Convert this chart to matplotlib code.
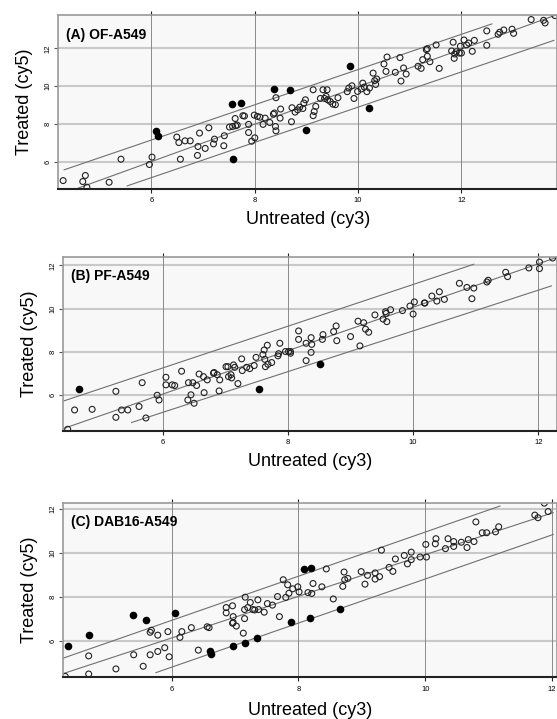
import matplotlib
matplotlib.use('Agg')
import matplotlib.pyplot as plt
import numpy as np

plt.rcParams['font.family'] = ['Liberation Sans', 'DejaVu Sans']

# (A) OF-A549
a_x = [4.29,4.67,4.72,4.75,5.18,5.41,5.96,6.01,6.49,6.53,6.56,6.65,6.75,6.89,6.90,6.93,7.04,7.11,7.20,7.22,
       7.40,7.41,7.51,7.57,7.62,7.63,7.66,7.77,7.80,7.88,7.88,7.94,7.99,8.00,8.05,8.10,8.16,8.20,8.29,8.36,
       8.38,8.41,8.40,8.41,8.49,8.50,8.71,8.72,8.78,8.83,8.87,8.93,8.95,8.98,9.13,9.13,9.15,9.18,9.27,9.32,
       9.35,9.38,9.40,9.41,9.46,9.51,9.56,9.61,9.79,9.82,9.88,9.92,9.99,10.06,10.09,10.12,10.17,10.22,10.29,10.32,
       10.34,10.36,10.50,10.54,10.56,10.72,10.81,10.83,10.88,10.93,11.16,11.22,11.25,11.32,11.34,11.34,11.39,11.51,11.57,11.81,
       11.84,11.86,11.87,11.90,11.96,11.98,12.00,12.05,12.10,12.14,12.21,12.25,12.49,12.49,12.71,12.74,12.82,12.98,13.01,13.35,
       13.59,13.62,13.81]
a_y = [5.01,4.96,5.28,4.66,4.92,6.14,5.86,6.25,7.31,7.02,6.14,7.11,7.11,6.34,6.81,7.52,6.71,7.80,6.95,7.20,
       6.85,7.38,7.84,7.87,8.29,7.91,7.94,8.44,8.42,7.55,7.98,7.09,8.47,7.27,8.40,8.36,7.98,8.31,8.08,8.52,
       8.58,9.39,7.87,7.64,8.31,8.79,8.12,8.86,8.63,8.75,8.89,8.82,9.11,9.28,8.44,9.81,8.66,8.93,9.35,9.81,
       9.35,9.46,9.81,9.28,9.19,9.05,9.02,9.39,9.71,9.90,10.02,9.35,9.72,9.85,10.16,9.95,9.71,9.90,10.69,10.29,
       10.09,10.38,11.17,10.78,11.54,10.73,11.51,10.27,10.96,10.64,11.05,10.94,11.40,11.93,11.98,11.58,11.29,12.18,10.94,11.86,
       12.32,11.47,11.70,11.82,11.75,12.11,11.75,12.44,12.18,12.28,11.84,12.42,12.92,12.16,12.74,12.85,12.97,13.01,12.79,13.52,
       13.48,13.34,13.73]
a_fx = [6.08,6.12,7.55,7.73,7.57,8.37,8.69,9.00,9.84,10.22]
a_fy = [7.62,7.34,9.04,9.12,6.14,9.85,9.78,7.66,11.05,8.82]

# (B) PF-A549
b_x = [4.48,4.59,4.87,5.25,5.25,5.34,5.44,5.62,5.67,5.73,5.91,5.94,6.05,6.05,6.15,6.19,6.30,6.40,6.41,6.45,
       6.48,6.50,6.54,6.58,6.65,6.66,6.71,6.81,6.82,6.87,6.90,6.91,7.01,7.05,7.04,7.09,7.10,7.13,7.15,7.20,
       7.26,7.27,7.34,7.39,7.46,7.49,7.60,7.62,7.63,7.64,7.67,7.68,7.74,7.84,7.85,7.87,7.96,8.01,8.04,8.04,
       8.17,8.17,8.29,8.29,8.37,8.37,8.38,8.55,8.56,8.73,8.77,8.78,9.00,9.12,9.15,9.21,9.24,9.29,9.39,9.52,
       9.56,9.57,9.58,9.64,9.83,9.95,10.00,10.02,10.18,10.19,10.30,10.38,10.42,10.50,10.74,10.86,10.94,10.97,11.18,11.20,
       11.48,11.51,11.85,12.02,12.02,12.23]
b_y = [4.43,5.32,5.35,6.18,4.98,5.32,5.32,5.48,6.58,4.95,6.00,5.78,6.83,6.48,6.48,6.45,7.11,5.78,6.58,6.02,
       6.58,5.63,6.45,6.98,6.86,6.12,6.71,7.02,7.05,6.95,6.20,6.71,7.32,6.86,7.32,6.95,6.80,7.40,7.29,6.54,
       7.68,7.14,7.29,7.23,7.37,7.75,7.88,8.09,7.66,7.32,8.31,7.43,7.51,7.82,7.92,8.40,8.02,8.02,7.94,8.02,
       8.58,8.97,7.60,8.40,8.66,7.98,8.35,8.58,8.80,8.94,9.20,8.52,8.71,9.42,8.28,9.35,9.05,8.91,9.71,9.52,
       9.86,9.78,9.40,9.95,9.91,10.12,9.75,10.31,10.26,10.26,10.58,10.35,10.78,10.43,11.17,10.98,10.46,10.95,11.23,11.31,
       11.68,11.48,11.88,12.15,11.85,12.34]
b_fx = [4.66,7.54,8.52]
b_fy = [6.31,6.29,7.43]

# (C) DAB16-A549
c_x = [4.32,4.69,4.69,5.12,5.40,5.55,5.66,5.68,5.66,5.78,5.78,5.89,5.94,5.96,6.13,6.16,6.31,6.42,6.56,6.59,
       6.86,6.86,6.96,6.97,6.96,6.97,7.02,7.13,7.15,7.15,7.16,7.20,7.24,7.28,7.31,7.36,7.37,7.46,7.51,7.59,
       7.67,7.70,7.76,7.80,7.83,7.85,7.91,7.99,8.01,8.15,8.21,8.23,8.37,8.44,8.55,8.70,8.72,8.73,8.78,8.99,
       9.05,9.09,9.21,9.21,9.28,9.31,9.43,9.49,9.53,9.67,9.72,9.78,9.78,9.92,10.02,10.01,10.16,10.17,10.32,10.36,
       10.45,10.45,10.57,10.66,10.68,10.77,10.80,10.90,10.97,11.11,11.16,11.73,11.78,11.88,11.94]
c_y = [4.40,5.33,4.51,4.74,5.38,4.86,6.40,6.49,5.38,5.53,6.27,5.70,6.43,5.29,6.17,6.43,6.61,5.59,6.65,6.61,
       7.52,7.28,7.60,7.11,6.81,6.84,6.68,6.36,7.43,7.02,7.99,7.52,7.75,7.43,7.41,7.87,7.43,7.31,7.70,7.63,
       8.02,7.11,8.78,7.98,8.55,8.17,8.37,8.46,8.23,8.20,8.16,8.61,8.46,9.27,7.91,8.48,9.13,8.78,8.84,9.15,
       8.58,8.98,9.09,8.81,8.92,10.12,9.34,9.16,9.72,9.88,9.50,10.03,9.69,9.81,9.81,10.38,10.41,10.64,10.19,10.64,
       10.51,10.29,10.48,10.24,10.60,10.51,11.40,10.91,10.91,10.95,11.18,11.71,11.59,12.25,11.87]
c_fx = [4.37,4.70,5.39,5.60,6.05,6.60,6.62,6.96,7.16,7.35,7.89,8.09,8.20,8.18,8.65]
c_fy = [5.79,6.29,7.19,6.96,7.28,5.54,5.42,5.77,5.92,6.15,6.88,9.27,9.33,7.05,7.46]

# fitted lines: (x0, y0, x1, y1) for centre, upper, lower
a_lines = [(4.54,4.57,13.85,13.78), (4.31,5.58,12.59,13.29), (5.53,4.73,13.79,12.42)]
b_lines = [(4.41,4.46,12.30,12.37), (4.42,5.74,10.97,12.05), (5.50,4.74,12.21,11.05)]
c_lines = [(4.29,4.53,12.02,11.82), (4.27,5.21,11.18,12.12), (5.75,4.57,12.02,10.83)]

titles = ['(A) OF-A549', '(B) PF-A549', '(C) DAB16-A549']
xlims = [(4.2,13.85), (4.41,12.3), (4.29,12.08)]
ylims = [(4.56,13.74), (4.35,12.4), (4.36,12.27)]
rects = [[0.105,0.737,0.895,0.2416], [0.1137,0.4006,0.8863,0.2424], [0.1137,0.058,0.8863,0.2428]]
pads = [5, 5, 7]

panels = [(a_x,a_y,a_fx,a_fy,a_lines), (b_x,b_y,b_fx,b_fy,b_lines), (c_x,c_y,c_fx,c_fy,c_lines)]

fig = plt.figure(figsize=(5.57,7.19), dpi=100)
for i in range(3):
    ox, oy, fx, fy, lines = panels[i]
    ax = fig.add_axes(rects[i])
    ax.set_facecolor('#f8f8f8')
    ax.set_xlim(xlims[i])
    ax.set_ylim(ylims[i])
    ax.set_xticks([6,8,10,12])
    ax.set_yticks([6,8,10,12])
    for y in [6,8,10,12]:
        ax.axhline(y, color='#c9c9c9', lw=1.5, zorder=0)
    for x in [6,8,10,12]:
        ax.axvline(x, color='#8a8a8a', lw=0.7, zorder=0)
    for l in lines:
        ax.plot([l[0],l[2]], [l[1],l[3]], color='#707070', lw=0.8, zorder=1)
    ax.scatter(ox, oy, s=18, facecolors='none', edgecolors='#222222', linewidths=0.8, zorder=2)
    ax.scatter(fx, fy, s=20, color='black', zorder=3)
    ax.tick_params(axis='x', top=True, bottom=True, direction='out', length=3, width=0.8,
                   labelsize=5.5, pad=3, color='#222222')
    ax.tick_params(axis='y', direction='out', length=3, width=0.8, labelsize=5.5, pad=2,
                   color='#555555')
    plt.setp(ax.get_yticklabels(), rotation=90, va='center')
    for s in ['top','left','right']:
        ax.spines[s].set_color('#999999')
        ax.spines[s].set_linewidth(1.2)
    ax.spines['bottom'].set_color('#222222')
    ax.spines['bottom'].set_linewidth(1.5)
    ax.text(0.015, 0.93, titles[i], transform=ax.transAxes, fontsize=10, fontweight='bold',
            va='top', ha='left')
    ax.set_xlabel('Untreated (cy3)', fontsize=13, labelpad=pads[i])
    ax.set_ylabel('Treated (cy5)', fontsize=13, labelpad=8)

fig.savefig('out.png', dpi=100)
